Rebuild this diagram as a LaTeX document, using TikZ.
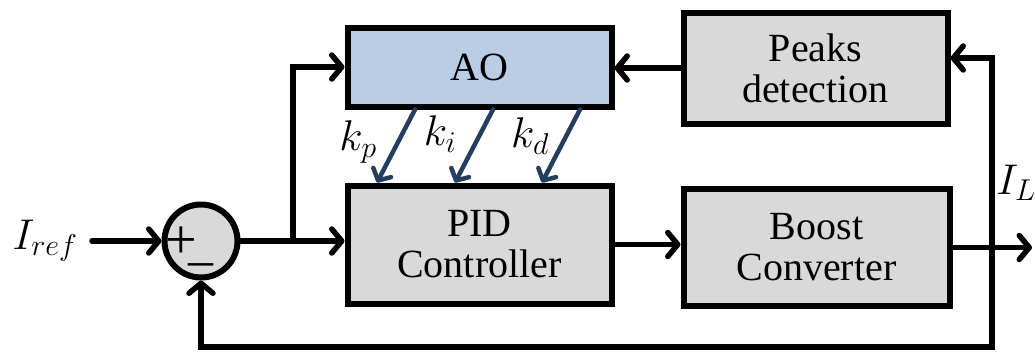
\documentclass[tikz,border=0pt]{standalone}
\usepackage{fix-cm}
\usepackage{fontspec}
\setmainfont{Liberation Serif}
\usetikzlibrary{arrows.meta,calc}
\definecolor{blockgray}{RGB}{217,217,217}
\definecolor{aoblue}{RGB}{185,205,229}
\definecolor{gainblue}{RGB}{36,62,96}
\tikzset{
  blk/.style={draw=black, line width=6pt, fill=blockgray, align=center,
    inner sep=0pt, font=\fontsize{40}{41}\selectfont},
  arr/.style={draw=black, line width=5.5pt, line cap=round, line join=miter,
    -{Straight Barb[length=10pt,width=24pt,line cap=round,line join=round]}},
  garr/.style={draw=gainblue, line width=4.5pt, line cap=round,
    -{Straight Barb[length=9pt,width=20pt,line cap=round,line join=round]}},
  lbl/.style={inner sep=0pt, font=\fontsize{43}{43}\selectfont}
}
\begin{document}
\begin{tikzpicture}[x=1pt,y=-1pt]
\useasboundingbox (0,0) rectangle (1035,351);

% blocks
\node[blk, fill=aoblue, minimum width=264pt, minimum height=79pt] (ao) at (479.5,67) {AO};
\node[blk, minimum width=264pt, minimum height=111pt] (peaks) at (815.5,68) {Peaks\\detection};
\node[blk, minimum width=264pt, minimum height=118pt] (pid) at (479.5,244.5) {PID\\Controller};
\node[blk, minimum width=266pt, minimum height=117pt] (boost) at (816.5,247.5) {Boost\\Converter};

% summing junction with its signs
\node[draw=black, line width=6pt, fill=blockgray, circle, minimum size=73pt, inner sep=0pt] (sum) at (201,241) {};
\node[inner sep=0pt, anchor=base west, font=\fontsize{56}{56}\selectfont] (signs) at (165,258)
  {+\kern-8pt\raisebox{-18pt}{\fontsize{50}{50}\selectfont\textendash}};

% signal labels and free ends
\node[lbl] (iref) at (45,241) {$I_{ref}$};
\coordinate (in) at (92,241);
\node[lbl] (il) at (1016,183) {$I_L$};
\coordinate (out) at (1032,247.5);
\coordinate (br) at (293,241);
\coordinate (fb) at (992,247.5);
\coordinate (fbb) at (992,347);

% main path
\draw[arr] (in) -- (sum.west);
\draw[arr] (sum.east) -- (sum.east -| pid.west);
\draw[arr] (br) |- (ao.west);
\draw[arr] (pid.east) -- (pid.east -| boost.west);
\draw[arr] (boost.east |- out) -- (out);
\draw[arr] (peaks.west) -- (peaks.west -| ao.east);

% feedback
\draw[arr] (fb) |- ([yshift=10pt]peaks.east);
\draw[arr] (fb) -- (fbb) -| (sum.south);

% gains from AO to PID
\draw[garr] ([xshift=-64.5pt]ao.south) -- ([xshift=-102.5pt]pid.north);
\draw[garr] ([xshift=13.5pt]ao.south) -- ([xshift=-24.5pt]pid.north);
\draw[garr] ([xshift=100.5pt]ao.south) -- ([xshift=62.5pt]pid.north);
\node[lbl] (kp) at (358,142) {$k_p$};
\node[lbl] (ki) at (440,134) {$k_i$};
\node[lbl] (kd) at (530,136) {$k_d$};
\end{tikzpicture}
\end{document}
